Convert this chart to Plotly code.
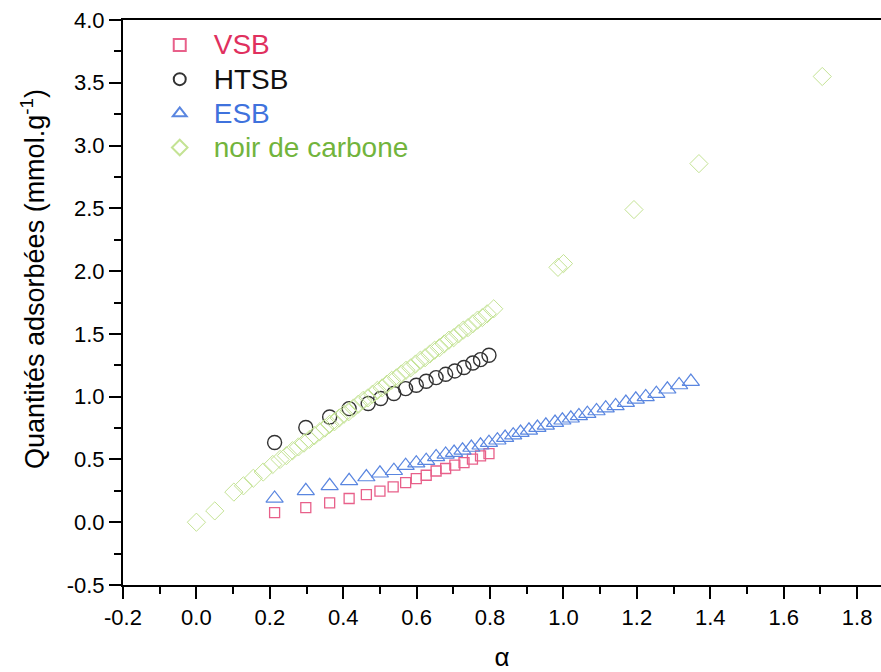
import plotly.graph_objects as go

# ---- data ----
htsb_x = [0.213, 0.298, 0.363, 0.416, 0.468, 0.502, 0.538, 0.570, 0.599, 0.626, 0.653, 0.679, 0.704, 0.729, 0.753, 0.774, 0.797]
htsb_y = [0.635, 0.754, 0.838, 0.905, 0.945, 0.985, 1.025, 1.064, 1.091, 1.123, 1.152, 1.178, 1.205, 1.232, 1.268, 1.295, 1.330]

vsb_x = [0.213, 0.298, 0.363, 0.416, 0.463, 0.500, 0.536, 0.570, 0.599, 0.626, 0.653, 0.679, 0.704, 0.729, 0.752, 0.774, 0.797]
vsb_y = [0.077, 0.117, 0.154, 0.189, 0.220, 0.247, 0.281, 0.316, 0.348, 0.374, 0.408, 0.428, 0.454, 0.475, 0.502, 0.528, 0.547]

esb_x = [0.213, 0.298, 0.363, 0.416, 0.463, 0.500, 0.538, 0.570, 0.599, 0.626, 0.653, 0.679,
         0.702, 0.725, 0.749, 0.774, 0.797, 0.820, 0.841, 0.863, 0.883, 0.906, 0.929, 0.952,
         0.977, 0.997, 1.020, 1.042, 1.065, 1.090, 1.115, 1.142, 1.170, 1.197, 1.224, 1.253,
         1.283, 1.315, 1.347]
esb_y = [0.19, 0.25, 0.29, 0.33, 0.36, 0.39, 0.41, 0.45, 0.47, 0.49, 0.52, 0.54,
         0.555, 0.573, 0.595, 0.613, 0.634, 0.653, 0.674, 0.693, 0.714, 0.732, 0.754, 0.772,
         0.794, 0.812, 0.828, 0.847, 0.865, 0.886, 0.908, 0.926, 0.953, 0.979, 0.998, 1.024,
         1.059, 1.093, 1.120]

nc_x = [0.0, 0.05, 0.102, 0.128, 0.155, 0.182, 0.208, 0.228, 0.245, 0.262, 0.278, 0.293, 0.308,
        0.322, 0.336, 0.350, 0.363, 0.376, 0.389, 0.402, 0.415, 0.428, 0.441, 0.454, 0.467,
        0.480, 0.493, 0.506, 0.519, 0.532, 0.545, 0.558, 0.571, 0.584, 0.597, 0.610, 0.623,
        0.636, 0.649, 0.662, 0.675, 0.688, 0.701, 0.714, 0.727, 0.740, 0.753, 0.766, 0.779,
        0.792, 0.810, 0.985, 1.000, 1.192, 1.369, 1.705]
nc_y = [0.0, 0.09, 0.24, 0.29, 0.35, 0.40, 0.46, 0.50, 0.53, 0.57, 0.60, 0.63, 0.66,
        0.69, 0.72, 0.75, 0.78, 0.80, 0.83, 0.86, 0.88, 0.91, 0.94, 0.97, 0.99,
        1.02, 1.05, 1.07, 1.10, 1.13, 1.15, 1.18, 1.21, 1.23, 1.26, 1.29, 1.31,
        1.34, 1.37, 1.39, 1.42, 1.45, 1.47, 1.50, 1.53, 1.55, 1.58, 1.61, 1.63,
        1.66, 1.70, 2.03, 2.06, 2.49, 2.856, 3.55]

series_names = ["VSB", "HTSB", "ESB", "noir de carbone"]
text_colors = ["#e0305e", "#111111", "#3f72dd", "#72b43c"]
marker_colors = ["#e8608a", "#333333", "#5a86e0", "#c4e394"]

x_tickvals = [-0.2, 0.0, 0.2, 0.4, 0.6, 0.8, 1.0, 1.2, 1.4, 1.6, 1.8]
x_ticktext = ["-0.2", "0.0", "0.2", "0.4", "0.6", "0.8", "1.0", "1.2", "1.4", "1.6", "1.8"]
y_tickvals = [-0.5, 0.0, 0.5, 1.0, 1.5, 2.0, 2.5, 3.0, 3.5, 4.0]
y_ticktext = ["-0.5", "0.0", "0.5", "1.0", "1.5", "2.0", "2.5", "3.0", "3.5", "4.0"]

y_title = "Quantités adsorbées (mmol.g<sup>-1</sup>)"
x_title = "α"

fig = go.Figure()
traces = [
    (vsb_x, vsb_y, "square-open", 10, 1.3),
    (htsb_x, htsb_y, "circle-open", 14, 1.4),
    (esb_x, esb_y, "triangle-up-open", 15, 1.2),
    (nc_x, nc_y, "diamond-open", 14, 1.0),
]
for i, (xs, ys, sym, sz, lw) in enumerate(traces):
    fig.add_trace(go.Scatter(
        x=xs, y=ys, mode="markers",
        name=f"<span style='font-size:28px;color:{text_colors[i]}'>{series_names[i]}</span>",
        legendgroup=series_names[i],
        marker=dict(symbol=sym, size=sz, color=marker_colors[i],
                    line=dict(width=lw, color=marker_colors[i])),
    ))

FONT = "Liberation Sans, Arial, sans-serif"

fig.update_layout(
    width=881, height=672,
    margin=dict(l=123, r=0, t=20, b=87, autoexpand=False),
    paper_bgcolor="white", plot_bgcolor="white",
    font=dict(family=FONT, color="black"),
    showlegend=True,
    legend=dict(x=0.03, y=0.995, xanchor="left", yanchor="top",
                font=dict(size=24, family=FONT),
                bgcolor="rgba(0,0,0,0)", itemsizing="constant", tracegroupgap=0,
                itemwidth=58),
    xaxis=dict(
        range=[-0.2, 1.865], tickmode="array", tickvals=x_tickvals, ticktext=x_ticktext,
        showgrid=False, zeroline=False, showline=True, linecolor="black", linewidth=2,
        mirror=True, ticks="outside", ticklen=12, tickwidth=2, tickcolor="black",
        minor=dict(dtick=0.1, tick0=-0.2, ticks="outside", ticklen=7, tickwidth=2, tickcolor="black"),
        tickfont=dict(family=FONT, size=22, color="black"), ticklabelstandoff=0,
        automargin=False,
        title=dict(text=x_title, font=dict(size=26, family=FONT), standoff=18),
    ),
    yaxis=dict(
        range=[-0.5, 4.0], tickmode="array", tickvals=y_tickvals, ticktext=y_ticktext,
        showgrid=False, zeroline=False, showline=True, linecolor="black", linewidth=2,
        ticks="outside", ticklen=12, tickwidth=2, tickcolor="black",
        minor=dict(dtick=0.25, tick0=-0.5, ticks="outside", ticklen=7, tickwidth=2, tickcolor="black"),
        tickfont=dict(family=FONT, size=22, color="black"), ticklabelstandoff=0,
        automargin=False,
    ),
    annotations=[dict(
        text=y_title, textangle=-90, xref="paper", yref="paper",
        x=-0.1187, y=0.5416, xanchor="center", yanchor="middle", showarrow=False,
        font=dict(size=27, family=FONT, color="black"),
    )],
)

fig.write_html("out.html", config={"displayModeBar": False},
               post_script="document.body.style.margin='0px';")
